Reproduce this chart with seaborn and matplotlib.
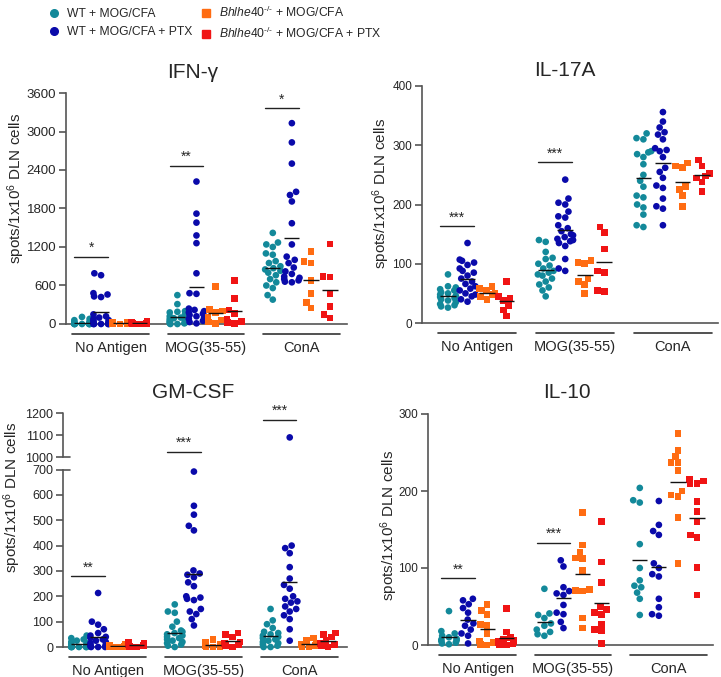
import warnings
warnings.filterwarnings("ignore")
import numpy as np
import pandas as pd
import matplotlib
matplotlib.use("Agg")
import matplotlib.pyplot as plt
import matplotlib.transforms as mtransforms
from matplotlib.lines import Line2D
import seaborn as sns

sns.set_theme(style="ticks")
plt.rcParams["font.family"] = ["Liberation Sans", "DejaVu Sans"]
plt.rcParams["mathtext.fontset"] = "custom"
plt.rcParams["mathtext.rm"] = "Liberation Sans"
plt.rcParams["mathtext.it"] = "Liberation Sans:italic"

# ---------------- data ----------------
antigens = ["No Antigen", "MOG(35-55)", "ConA"]
groups = ["WT + MOG/CFA", "WT + MOG/CFA + PTX",
          r"$\mathit{Bhlhe40}^{\text{-/-}}$ + MOG/CFA", r"$\mathit{Bhlhe40}^{\text{-/-}}$ + MOG/CFA + PTX"]
colors = ["#13899a", "#0a0aaa", "#ff6c12", "#f01414"]
markers = ["o", "o", "s", "s"]

# IFN-gamma: per group, values for [No Antigen, MOG, ConA]
IFNG_WT = [[110, 80, 60, 40, 30, 20, 15, 10, 10, 5, 5, 0, 0, 0, 0, 0, 0, 0],
           [450, 310, 200, 190, 180, 150, 120, 100, 90, 80, 60, 50, 40, 30, 20, 10, 10, 0, 0],
           [1420, 1270, 1240, 1200, 1100, 1080, 980, 950, 900, 870, 850, 830, 800, 760, 700, 650, 600, 560, 450, 380]]
IFNG_WTPTX = [[790, 760, 480, 460, 430, 420, 150, 120, 100, 80, 60, 50, 40, 30, 20, 10, 10, 0, 0, 0, 0, 0],
              [2220, 1720, 1580, 1380, 1260, 790, 480, 470, 240, 220, 200, 180, 160, 140, 120, 100, 80, 50, 30, 10],
              [3130, 2830, 2500, 2060, 2010, 1910, 1570, 1240, 1050, 1000, 950, 880, 820, 780, 740, 720, 700, 680, 660, 650]]
IFNG_KO = [[30, 20, 10, 10, 5, 0, 0],
           [580, 230, 200, 180, 100, 60, 30, 10],
           [1130, 970, 950, 680, 480, 330, 250]]
IFNG_KOPTX = [[40, 30, 20, 15, 10, 5, 0],
              [675, 394, 220, 160, 80, 40, 20, 10],
              [1245, 745, 735, 480, 275, 145, 95]]

# IL-17A
IL17_WT = [[82, 62, 60, 57, 55, 52, 50, 48, 46, 44, 42, 40, 38, 35, 32, 30, 28, 26],
           [140, 137, 120, 110, 108, 100, 97, 92, 88, 85, 82, 80, 75, 70, 65, 60, 55, 45],
           [320, 312, 310, 290, 288, 285, 280, 268, 250, 240, 230, 215, 212, 200, 195, 183, 165, 162]]
IL17_WTPTX = [[135, 107, 105, 102, 98, 92, 88, 85, 80, 75, 70, 66, 62, 58, 55, 50, 48, 45, 40, 36],
              [242, 210, 203, 200, 188, 180, 178, 165, 160, 155, 150, 148, 145, 142, 140, 138, 135, 130, 108, 92, 88],
              [356, 340, 330, 322, 318, 310, 295, 292, 290, 280, 262, 255, 245, 232, 228, 210, 197, 193, 165]]
IL17_KO = [[62, 58, 55, 50, 48, 45, 40],
           [105, 102, 100, 75, 70, 65, 50],
           [270, 265, 262, 230, 225, 215, 197]]
IL17_KOPTX = [[70, 45, 42, 38, 30, 22, 12],
              [162, 153, 125, 88, 85, 55, 53],
              [275, 265, 252, 248, 245, 238, 222]]

# GM-CSF
GM_WT = [[45, 35, 30, 25, 20, 15, 12, 10, 8, 5, 3, 2, 0, 0, 0, 0, 0, 0],
         [168, 140, 135, 100, 80, 65, 60, 55, 50, 45, 40, 35, 30, 25, 20, 15, 10, 5, 0],
         [150, 105, 90, 75, 60, 55, 50, 45, 40, 35, 30, 25, 20, 15, 10, 5, 0, 0]]
GM_WTPTX = [[213, 100, 88, 70, 55, 45, 40, 35, 30, 25, 20, 15, 10, 8, 5, 3, 0, 0, 0],
            [692, 557, 522, 478, 460, 302, 290, 285, 275, 255, 240, 200, 195, 190, 185, 150, 140, 130, 110, 85],
            [1090, 400, 390, 370, 315, 270, 245, 230, 200, 190, 180, 175, 160, 150, 140, 125, 110, 70, 25]]
GM_KO = [[12, 8, 5, 3, 2, 0, 0],
         [30, 20, 10, 5, 3, 0, 0],
         [35, 25, 15, 10, 5, 0, 0]]
GM_KOPTX = [[18, 15, 12, 10, 8, 5, 3, 0],
            [55, 50, 40, 20, 15, 10, 5, 0],
            [55, 50, 40, 25, 15, 10, 5, 0]]

# IL-10
IL10_WT = [[44, 18, 15, 12, 10, 8, 7, 6, 5, 3, 2, 1],
           [73, 41, 39, 35, 28, 25, 20, 17, 14, 12],
           [204, 188, 185, 131, 100, 84, 77, 75, 68, 60, 39]]
IL10_WTPTX = [[60, 58, 53, 48, 42, 33, 28, 25, 20, 15, 12, 2],
              [110, 102, 75, 70, 67, 65, 52, 42, 40, 30, 22],
              [187, 156, 148, 143, 106, 100, 92, 89, 60, 49, 40, 38]]
IL10_KO = [[53, 45, 40, 27, 25, 15, 5, 3, 1, 0],
           [172, 130, 120, 113, 112, 97, 72, 71, 70, 35, 22],
           [275, 253, 245, 237, 237, 227, 200, 195, 193, 166, 106]]
IL10_KOPTX = [[47, 17, 10, 8, 6, 5, 4, 3, 2, 1, 0],
              [160, 108, 81, 50, 46, 42, 40, 27, 20, 18, 2],
              [215, 213, 210, 210, 186, 173, 160, 143, 140, 101, 65]]

# significance annotations: (antigen index, bar height, stars)
IFNG_SIG = [(0, 1050, "*"), (1, 2470, "**"), (2, 3370, "*")]
IL17_SIG = [(0, 163, "***"), (1, 272, "***")]
GM_SIG = [(0, 280, "**"), (1, 1026, "***"), (2, 1170, "***")]
IL10_SIG = [(0, 87, "**"), (1, 133, "***")]

# dodge of the four groups inside each antigen (category units)
offsets = [-0.3, -0.1, 0.1, 0.3]


def to_df(series):
    rows = []
    for gi, (g, per_ag) in enumerate(zip(groups, series)):
        for ai, (ag, vals) in enumerate(zip(antigens, per_ag)):
            for v in vals:
                rows.append((ag, ai + offsets[gi], g, v))
    return pd.DataFrame(rows, columns=["antigen", "pos", "group", "value"])


# ---------------- figure ----------------
W, H = 721, 677
fig = plt.figure(figsize=(W / 100, H / 100), dpi=100)


def frac_rect(l, r, t, b):
    return [l / W, 1 - b / H, (r - l) / W, (b - t) / H]


# GM-CSF broken scale
def gm_fwd(y):
    y = np.asarray(y, dtype=float)
    return np.where(y <= 700, y,
                    np.where(y < 1000, 700 + (y - 700) * 0.16, 748 + (y - 1000) * 0.875))


def gm_inv(z):
    z = np.asarray(z, dtype=float)
    return np.where(z <= 700, z,
                    np.where(z < 748, 700 + (z - 700) / 0.16, 1000 + (z - 748) / 0.875))


panels = [
    dict(name="IFN-γ", data=[IFNG_WT, IFNG_WTPTX, IFNG_KO, IFNG_KOPTX], sig=IFNG_SIG,
         rect=(66, 347, 93, 324), x0=110.6, ppu=95.4, ylim=3600, yticks=np.arange(0, 3601, 600),
         title=(193, 72), ylab=(16, 188), tsize=9.5),
    dict(name="IL-17A", data=[IL17_WT, IL17_WTPTX, IL17_KO, IL17_KOPTX], sig=IL17_SIG,
         rect=(422, 718, 86, 323), x0=477.3, ppu=97.7, ylim=400, yticks=np.arange(0, 401, 100),
         title=(565, 71), ylab=(381, 193), tsize=8.5),
    dict(name="GM-CSF", data=[GM_WT, GM_WTPTX, GM_KO, GM_KOPTX], sig=GM_SIG,
         rect=(63, 347, 413, 647), x0=107.7, ppu=95.8, ylim=1200,
         yticks=[0, 100, 200, 300, 400, 500, 600, 700, 1000, 1100, 1200],
         title=(193, 393), ylab=(12, 497), tsize=9),
    dict(name="IL-10", data=[IL10_WT, IL10_WTPTX, IL10_KO, IL10_KOPTX], sig=IL10_SIG,
         rect=(428, 713, 414, 645), x0=477.6, ppu=95.4, ylim=300, yticks=np.arange(0, 301, 100),
         title=(567, 393), ylab=(389, 525), tsize=8.5),
]

axis_col = "#555555"
pal = dict(zip(groups, colors))

for p in panels:
    l, r, t, b = p["rect"]
    ax = fig.add_axes(frac_rect(l, r, t, b))
    if p["name"] == "GM-CSF":
        ax.set_yscale("function", functions=(gm_fwd, gm_inv))
    df = to_df(p["data"])
    for mk, gsub in (("o", groups[:2]), ("s", groups[2:])):
        sns.swarmplot(data=df[df["group"].isin(gsub)], x="pos", y="value", hue="group",
                      hue_order=groups, native_scale=True, palette=pal,
                      marker=mk, size=4.8, linewidth=0, ax=ax, legend=False, warn_thresh=1)
    for c in ax.collections:
        c.set_clip_on(False)
    # mean lines
    means = df.groupby(["pos", "group"], sort=False)["value"].mean().reset_index()
    ax.hlines(means["value"], means["pos"] - 0.08, means["pos"] + 0.08,
              color="#111111", lw=1.0, zorder=5)
    # significance bars
    for ai, yv, stars in p["sig"]:
        ax.plot([ai - 0.38, ai - 0.03], [yv, yv], color="#222222", lw=1.0, clip_on=False)
        ax.annotate(stars, xy=(ai - 0.205, yv), xytext=(0, 1), textcoords="offset points",
                    ha="center", va="bottom", fontsize=10, annotation_clip=False)
    # axes limits
    ax.set_xlim((l - p["x0"]) / p["ppu"], (r - p["x0"]) / p["ppu"])
    ax.set_ylim(0, p["ylim"])
    ax.set_yticks(p["yticks"])
    ax.set_yticklabels([str(v) for v in p["yticks"]])
    ax.set_xticks(range(len(antigens)))
    ax.set_xticklabels(antigens)
    ax.set_xlabel("")
    ax.tick_params(axis="x", length=0, pad=12, labelsize=10.5)
    ax.tick_params(axis="y", length=5, width=1.2, color=axis_col, labelsize=p["tsize"], pad=2)
    for s in ("top", "right"):
        ax.spines[s].set_visible(False)
    ax.spines["bottom"].set_color(axis_col)
    ax.spines["bottom"].set_linewidth(1.2)
    ax.spines["left"].set_color(axis_col)
    ax.spines["left"].set_linewidth(1.2)
    if p["name"] == "GM-CSF":
        ax.spines["left"].set_bounds(0, 700)
        yt = ax.get_yaxis_transform()
        ax.plot([0, 0], [1000, 1200], color=axis_col, lw=1.2, transform=yt, clip_on=False)
        for yb in (700, 1000):
            ax.plot([0, 0.025], [yb, yb], color=axis_col, lw=1.2, transform=yt, clip_on=False)
    # category underlines
    tr = mtransforms.offset_copy(ax.get_xaxis_transform(), fig=fig, y=-10, units="dots")
    for ai in range(len(antigens)):
        ax.plot([ai - 0.4, ai + 0.4], [0, 0], color="#333333", lw=1.2, transform=tr, clip_on=False)
    # labels
    ax.set_ylabel("spots/1x10$^{6}$ DLN cells", fontsize=11, va="center")
    ax.yaxis.set_label_coords(p["ylab"][0] / W, 1 - p["ylab"][1] / H, transform=fig.transFigure)
    fig.text(p["title"][0] / W, 1 - p["title"][1] / H, p["name"], ha="center", va="center", fontsize=15)

# legend
handles = [Line2D([], [], marker=m, color=c, linestyle="none", markersize=5.5 if m == "o" else 6)
           for m, c in zip(markers, colors)]
fig.legend(handles, groups, loc="upper left", bbox_to_anchor=(42 / W, 1 - 0 / H), ncol=2,
           frameon=False, fontsize=8.7, handletextpad=0.5, columnspacing=0.5,
           labelspacing=0.5, handlelength=1.2, borderaxespad=0)

fig.savefig("out.png", dpi=100)
